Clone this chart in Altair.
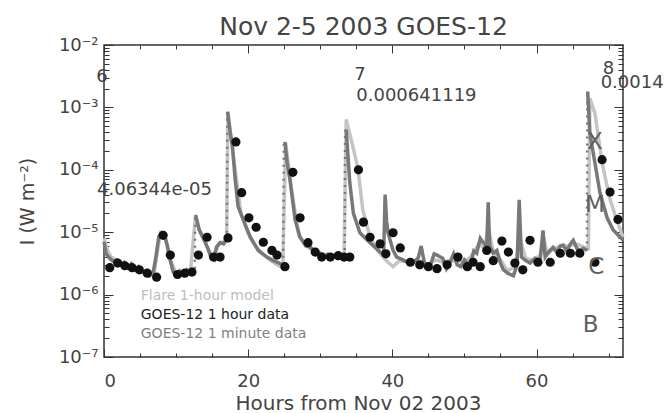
import altair as alt
import pandas as pd

# ---------------- data ----------------
# GOES-12 1 minute data; a new segment starts after each data gap at a flare onset
seg_starts = [0.0, 12.7, 17.15, 25.1, 33.6, 67.1]
min_hours = [
    0.0, 0.3, 0.8, 1.3, 1.8, 2.3, 2.8, 3.3, 3.8, 4.3, 4.8, 5.3, 5.8, 6.3, 6.8,
    7.2, 7.6, 8.0, 8.4, 8.8, 9.2, 9.6, 10.0, 10.5, 11.0, 11.5, 12.0, 12.5,
    12.7, 13.2, 13.8, 14.4, 14.9, 15.3, 15.6, 16.1, 16.6, 17.0,
    17.15, 17.5, 17.8, 18.2, 18.6, 19.3, 20.3, 21.4, 22.6, 23.5, 24.3, 24.7,
    25.1, 25.4, 25.8, 26.5, 27.2, 28.0, 28.6, 29.3, 30.0, 30.5, 31.0, 31.5,
    32.0, 32.5, 33.0, 33.3,
    33.6, 34.1, 34.6, 35.5, 36.9, 38.3, 38.8, 39.0, 39.2, 39.4, 40.1, 40.6,
    41.5, 42.3, 42.9, 43.6, 44.0, 44.5, 45.2, 45.8, 46.2, 47.0, 47.5, 48.0,
    48.5, 49.0, 49.5, 50.0, 50.8, 51.3, 51.7, 52.2, 52.6, 53.1, 53.3, 53.5,
    54.0, 54.5, 55.0, 55.4, 56.0, 56.8, 57.3, 57.6, 57.9, 58.5, 59.1, 59.8,
    60.5, 60.9, 61.2, 61.8, 62.3, 62.8, 63.3, 63.7, 64.2, 64.7, 65.1, 65.6,
    66.0, 66.5, 67.0,
    67.1, 67.4, 68.1, 68.8, 69.8, 70.6, 71.6, 72.0,
]
min_flux = [
    7.0e-6, 4.5e-6, 3.8e-6, 3.4e-6, 3.6e-6, 3.0e-6, 3.3e-6, 2.7e-6, 3.1e-6,
    2.5e-6, 2.8e-6, 2.3e-6, 2.4e-6, 2.0e-6, 2.2e-6,
    4.0e-6, 8.5e-6, 9.8e-6, 9.0e-6, 6.0e-6, 3.5e-6, 2.3e-6, 2.0e-6, 2.4e-6,
    2.1e-6, 2.5e-6, 2.2e-6, 2.6e-6,
    1.9e-5, 1.1e-5, 8.0e-6, 5.5e-6, 3.8e-6, 3.6e-6, 5.8e-6, 6.8e-6, 6.5e-6, 7.6e-6,
    8.5e-4, 4.0e-4, 2.5e-4, 7.0e-5, 2.6e-5, 1.6e-5, 8.3e-6, 5.1e-6, 4.0e-6,
    3.5e-6, 3.2e-6, 3.0e-6,
    2.8e-4, 1.3e-4, 6.9e-5, 1.6e-5, 8.3e-6, 6.0e-6, 5.8e-6, 4.8e-6, 4.6e-6,
    4.0e-6, 4.4e-6, 3.9e-6, 4.3e-6, 3.8e-6, 4.1e-6, 4.0e-6,
    4.4e-4, 6.2e-5, 2.0e-5, 9.8e-6, 6.8e-6, 4.8e-6, 4.5e-6, 4.0e-5, 1.5e-5,
    9.8e-6, 5.1e-6, 4.0e-6, 3.6e-6, 3.2e-6, 3.3e-6, 3.9e-6, 6.0e-6, 3.0e-6,
    2.8e-6, 4.5e-6, 4.3e-6, 3.8e-6, 2.6e-6, 3.3e-6, 4.5e-6, 3.0e-6, 2.8e-6,
    3.6e-6, 2.8e-6, 5.0e-6, 4.6e-6, 8.0e-6, 6.8e-6, 6.0e-6, 3.0e-5, 6.0e-6,
    4.6e-6, 5.1e-6, 3.2e-6, 2.5e-6, 2.2e-6, 2.0e-6, 3.0e-6, 3.3e-5, 4.0e-6,
    3.5e-6, 3.2e-6, 3.8e-6, 3.5e-6, 1.07e-5, 4.0e-6, 5.0e-6, 5.7e-6, 4.8e-6,
    6.0e-6, 6.2e-6, 5.0e-6, 6.5e-6, 7.4e-6, 5.5e-6, 5.1e-6, 5.5e-6, 5.1e-6,
    1.8e-3, 3.9e-4, 1.3e-4, 4.3e-5, 1.7e-5, 1.1e-5, 8.3e-6, 7.5e-6,
]

# sparse 1 minute samples on the steep flare rises (drawn dotted)
rise_id = [0, 0, 1, 1, 2, 2, 3, 3, 4, 4]
rise_hours = [12.6, 12.65, 17.05, 17.1, 24.85, 24.95, 33.4, 33.45, 67.0, 67.05]
rise_flux = [2.6e-6, 1.9e-5, 7.6e-6, 8.5e-4, 3.0e-6, 2.8e-4, 4.0e-6, 4.4e-4, 5.1e-6, 1.8e-3]

# GOES-12 1 hour data
hour_hours = [
    0.8, 1.9, 2.9, 3.9, 4.9, 6.0, 7.3, 8.2, 9.2, 10.2, 11.2, 12.2, 13.1, 14.3,
    15.2, 16.1, 17.2, 18.3, 19.1, 20.1, 21.1, 22.1, 23.3, 24.0, 25.1, 26.2,
    27.2, 28.3, 29.3, 30.2, 31.4, 32.5, 33.3, 34.1, 35.3, 36.0, 36.9, 38.3,
    39.1, 40.1, 41.1, 42.5, 43.8, 45.0, 46.2, 47.6, 49.1, 50.4, 51.2, 52.2,
    53.1, 54.0, 55.2, 56.1, 57.0, 58.1, 59.1, 60.2, 61.9, 63.3, 64.7, 66.0,
    68.1, 69.1, 70.2, 71.3,
]
hour_flux = [
    2.7e-6, 3.2e-6, 2.9e-6, 2.7e-6, 2.5e-6, 2.2e-6, 1.9e-6, 8.9e-6, 4.3e-6,
    2.1e-6, 2.2e-6, 2.3e-6, 4.3e-6, 8.3e-6, 4.0e-6, 4.0e-6, 8.1e-6, 2.8e-4,
    4.3e-5, 1.7e-5, 1.2e-5, 6.9e-6, 5.1e-6, 4.3e-6, 2.8e-6, 9.1e-5, 1.7e-5,
    6.8e-6, 4.8e-6, 4.0e-6, 4.0e-6, 4.2e-6, 4.0e-6, 4.0e-6, 1.0e-4, 1.45e-5,
    8.3e-6, 6.5e-6, 4.5e-6, 9.8e-6, 5.6e-6, 3.3e-6, 3.0e-6, 2.8e-6, 2.6e-6,
    3.0e-6, 4.0e-6, 2.8e-6, 3.3e-6, 2.8e-6, 5.1e-6, 3.5e-6, 7.2e-6, 4.8e-6,
    3.2e-6, 2.5e-6, 7.4e-6, 3.3e-6, 3.3e-6, 4.6e-6, 4.6e-6, 4.6e-6, 3.3e-6,
    1.45e-4, 4.4e-5, 1.6e-5,
]

# Flare 1-hour model
model_hours = [
    0.0, 0.5, 1.0, 2.0, 3.0, 4.0, 5.0, 6.0, 7.0, 7.8, 8.5, 9.2, 10.0, 11.0,
    12.0, 12.7, 13.3, 14.0, 15.0, 16.0, 17.0, 17.2, 18.0, 19.0, 20.0, 21.0,
    22.0, 23.0, 24.0, 24.8, 25.2, 26.0, 27.0, 28.0, 29.0, 30.0, 31.0, 32.0,
    33.3, 33.6, 34.3, 35.2, 35.9, 36.9, 38.0, 38.7, 39.5, 40.1, 41.0, 42.0,
    43.0, 44.0, 45.0, 46.0, 47.0, 48.0, 49.0, 50.0, 51.0, 52.0, 52.8, 53.3,
    54.0, 55.0, 56.0, 57.0, 57.7, 58.5, 59.5, 60.5, 61.0, 61.5, 62.5, 63.5,
    64.5, 65.5, 66.5, 67.2, 67.4, 68.1, 69.1, 70.1, 71.1, 72.0,
]
model_flux = [
    8.0e-6, 5.0e-6, 4.0e-6, 3.3e-6, 3.0e-6, 2.7e-6, 2.5e-6, 2.2e-6, 2.4e-6,
    9.5e-6, 8.0e-6, 3.6e-6, 2.2e-6, 2.3e-6, 2.4e-6, 1.8e-5, 1.0e-5, 7.0e-6,
    4.0e-6, 6.5e-6, 7.5e-6, 8.2e-4, 1.5e-4, 2.0e-5, 9.5e-6, 6.0e-6, 4.5e-6,
    3.6e-6, 3.0e-6, 2.7e-6, 2.7e-4, 5.0e-5, 9.0e-6, 6.2e-6, 5.0e-6, 4.6e-6,
    4.3e-6, 4.2e-6, 4.1e-6, 6.4e-4, 3.0e-4, 1.1e-4, 2.3e-5, 8.3e-6, 5.0e-6,
    4.0e-6, 3.2e-6, 2.8e-6, 3.5e-6, 3.4e-6, 3.5e-6, 3.4e-6, 3.0e-6, 3.6e-6,
    3.3e-6, 3.5e-6, 3.4e-6, 3.3e-6, 4.2e-6, 6.5e-6, 5.5e-6, 1.2e-5, 4.8e-6,
    3.6e-6, 2.4e-6, 2.8e-6, 8.0e-6, 3.8e-6, 3.6e-6, 4.2e-6, 8.0e-6, 4.5e-6,
    5.5e-6, 6.0e-6, 6.0e-6, 6.5e-6, 5.8e-6, 5.5e-6, 1.4e-3, 8.1e-4, 1.3e-4,
    3.7e-5, 1.6e-5, 8.3e-6,
]

# annotations
note_text = ["6", "7", "8"]
note_hours = [-0.28, 35.5, 70.0]
note_flux = [3.1e-3, 3.3e-3, 4.2e-3]

peak_text = ["4.06344e-05", "0.000641119", "0.0014"]
peak_hours = [-0.97, 35.0, 68.9]
peak_flux = [4.8e-5, 1.51e-3, 2.45e-3]

class_text = ["X", "M", "C", "B"]
class_hours = [68.1, 68.1, 68.3, 67.5]
class_flux = [2.8e-4, 2.75e-5, 2.75e-6, 3.2e-7]

legend_text = ["Flare 1-hour model", "GOES-12 1 hour data", "GOES-12 1 minute data"]
legend_hours = [5.1, 5.1, 5.1]
legend_flux = [9.5e-7, 4.7e-7, 2.3e-7]

title_text = "Nov 2-5 2003 GOES-12"

x_major = [0, 20, 40, 60]
x_minor = list(range(0, 75, 5))
y_major = [1e-7, 1e-6, 1e-5, 1e-4, 1e-3, 1e-2]
y_minor = [m * 10.0 ** e for e in range(-7, -2) for m in range(1, 10)] + [1e-2]

# ---------------- chart ----------------
W, H = 519, 312
xscale = alt.Scale(domain=[0, 72], nice=False, zero=False)
yscale = alt.Scale(type="log", domain=[1e-7, 1e-2], nice=False)

min_seg = [sum(1 for s in seg_starts if s <= h) for h in min_hours]
df_min = pd.DataFrame({"h": min_hours, "f": min_flux, "seg": min_seg})
df_rise = pd.DataFrame({"h": rise_hours, "f": rise_flux, "id": rise_id})
df_hour = pd.DataFrame({"h": hour_hours, "f": hour_flux})
df_model = pd.DataFrame({"h": model_hours, "f": model_flux})
df_note = pd.DataFrame({"h": note_hours, "f": note_flux, "t": note_text})
df_peak = pd.DataFrame({"h": peak_hours, "f": peak_flux, "t": peak_text})
df_class = pd.DataFrame({"h": class_hours, "f": class_flux, "t": class_text})
df_leg = pd.DataFrame({"h": legend_hours, "f": legend_flux, "t": legend_text})

sup = "['\u207b\u2077','\u207b\u2076','\u207b\u2075','\u207b\u2074','\u207b\u00b3','\u207b\u00b2']"
label_expr = "'10' + " + sup + "[round(log(datum.value)/LN10) + 7]"

main_x = alt.Axis(
    values=x_major, labelFontSize=18, labelColor="#444", ticks=False, tickSize=0,
    domain=False, grid=False, labelPadding=24, labelBaseline="middle",
    title="Hours from Nov 02 2003", titleFontSize=20, titleFontWeight="normal",
    titleColor="#444", titleX=254, titleY=46, titleBaseline="middle", titleAlign="center",
)
main_y = alt.Axis(
    values=y_major, labelExpr=label_expr, labelFontSize=18, labelColor="#444",
    ticks=False, tickSize=0, domain=False, grid=False, labelPadding=6,
    labelBaseline="middle",
    title="I (W m\u207b\u00b2)", titleFontSize=19, titleFontWeight="normal",
    titleColor="#444", titleX=-77, titleY=156, titleBaseline="middle",
    titleAlign="center", titleAngle=-90,
)

model = alt.Chart(df_model).mark_line(color="#c4c4c4", strokeWidth=3.5).encode(
    x=alt.X("h:Q", scale=xscale, axis=main_x),
    y=alt.Y("f:Q", scale=yscale, axis=main_y),
)
minute = alt.Chart(df_min).mark_line(color="#787878", strokeWidth=3.5).encode(
    x=alt.X("h:Q", scale=xscale, axis=None),
    y=alt.Y("f:Q", scale=yscale, axis=None),
    detail="seg:N",
)
rise = alt.Chart(df_rise).mark_line(color="#787878", strokeWidth=2.5, strokeDash=[2, 5]).encode(
    x=alt.X("h:Q", scale=xscale, axis=None),
    y=alt.Y("f:Q", scale=yscale, axis=None),
    detail="id:N",
)
hourly = alt.Chart(df_hour).mark_circle(color="#111", size=85, opacity=1).encode(
    x=alt.X("h:Q", scale=xscale, axis=None),
    y=alt.Y("f:Q", scale=yscale, axis=None),
)


def tick_axis(orient, offset, values, test, big, small):
    return alt.Axis(
        orient=orient, offset=offset, values=values, labels=False, domain=False,
        grid=False, title=None, ticks=True, tickColor="#333", tickWidth=1,
        minExtent=0, maxExtent=0,
        tickSize={"condition": {"test": test, "value": big}, "value": small},
    )


xtest = "datum.value % 20 == 0"
ytest = "abs(log(datum.value)/LN10 - round(log(datum.value)/LN10)) < 0.001"

ticksA = alt.Chart(df_hour).mark_point(opacity=0).encode(
    x=alt.X("h:Q", scale=xscale, axis=tick_axis("top", -H, x_minor, xtest, 8, 4)),
    y=alt.Y("f:Q", scale=yscale, axis=tick_axis("right", -W, y_minor, ytest, 9, 5)),
)
ticksB = alt.Chart(df_hour).mark_point(opacity=0).encode(
    x=alt.X("h:Q", scale=xscale, axis=tick_axis("bottom", -H, x_minor, xtest, 8, 4)),
    y=alt.Y("f:Q", scale=yscale, axis=tick_axis("left", -W, y_minor, ytest, 9, 5)),
)

notes = alt.Chart(df_note).mark_text(fontSize=18, color="#444", align="center", baseline="middle").encode(
    x=alt.X("h:Q", scale=xscale, axis=None),
    y=alt.Y("f:Q", scale=yscale, axis=None),
    text="t:N",
)
peaks = alt.Chart(df_peak).mark_text(fontSize=18, color="#444", align="left", baseline="middle").encode(
    x=alt.X("h:Q", scale=xscale, axis=None),
    y=alt.Y("f:Q", scale=yscale, axis=None),
    text="t:N",
)
classes = alt.Chart(df_class).mark_text(fontSize=23, color="#606060", align="center", baseline="middle").encode(
    x=alt.X("h:Q", scale=xscale, axis=None),
    y=alt.Y("f:Q", scale=yscale, axis=None),
    text="t:N",
)
legend = alt.Chart(df_leg).mark_text(fontSize=14, align="left", baseline="middle").encode(
    x=alt.X("h:Q", scale=xscale, axis=None),
    y=alt.Y("f:Q", scale=yscale, axis=None),
    text="t:N",
    color=alt.Color("t:N", scale=alt.Scale(domain=legend_text, range=["#bdbdbd", "#222", "#808080"]), legend=None),
)

chart = (
    alt.layer(model, minute, rise, hourly, ticksA, ticksB, notes, peaks, classes, legend)
    .resolve_axis(x="independent", y="independent")
    .properties(
        width=W, height=H,
        autosize=alt.AutoSizeParams(type="none"),
        padding={"left": 104, "top": 45, "right": 42, "bottom": 56},
        title=alt.Title(title_text, fontSize=25, color="#444", fontWeight="normal",
                        anchor="middle", frame="group", orient="top", offset=13,
                        baseline="alphabetic", dy=37),
        background="white",
    )
    .configure(font="DejaVu Sans")
    .configure_view(stroke="#333", strokeWidth=1.5)
)

chart.save("out.html", embed_options={"renderer": "svg", "actions": False})
